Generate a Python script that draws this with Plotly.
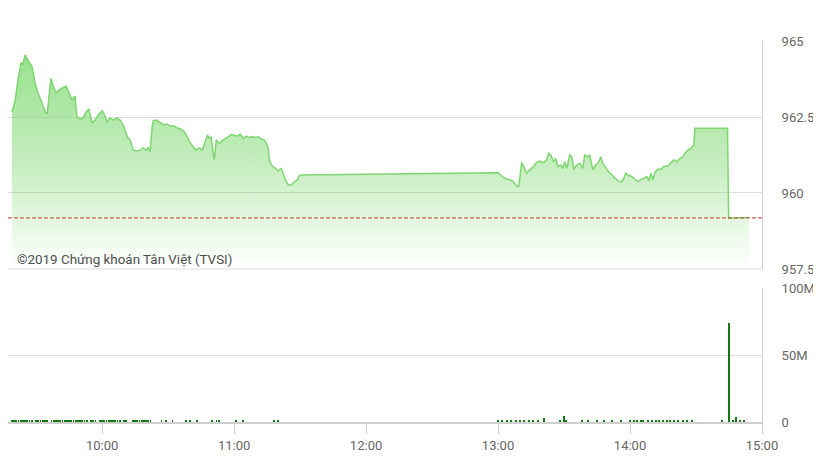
import plotly.graph_objects as go
from plotly.subplots import make_subplots

DAY = "2019-10-14 "

# ---- index line (time, value) ----
price_times = [
    "09:19:00","09:20:25","09:21:45","09:23:10","09:24:00","09:25:00","09:26:20","09:28:10","09:29:30","09:30:50",
    "09:32:40","09:34:05","09:35:00","09:36:20","09:36:45","09:37:40","09:39:05","09:40:25","09:42:15","09:43:35",
    "09:45:00","09:46:20","09:47:40","09:48:35","09:50:00","09:51:20","09:52:45","09:54:05","09:55:25","09:56:50",
    "09:58:10","10:00:00","10:00:55","10:02:15","10:03:40","10:05:00","10:06:50","10:08:10","10:10:00","10:11:25",
    "10:12:45","10:14:05","10:15:30","10:17:20","10:18:40","10:20:00","10:20:55","10:21:50","10:22:45","10:23:15",
    "10:24:35","10:25:55","10:26:50","10:28:15","10:29:35","10:30:55","10:32:45","10:34:10","10:36:00","10:37:20",
    "10:38:40","10:40:05","10:41:25","10:42:50","10:44:10","10:45:30","10:46:55","10:47:50","10:48:45","10:49:35",
    "10:50:30","10:51:00","10:51:55","10:53:15","10:54:40","10:56:00","10:57:20","10:58:45","11:00:05","11:01:25",
    "11:02:50","11:04:10","11:05:35","11:06:55","11:08:15","11:09:40","11:11:00","11:12:25","11:13:45","11:14:40",
    "11:15:35","11:16:00","11:16:55","11:18:45","11:20:05","11:21:30","11:22:25","11:23:20","11:24:40","11:26:00",
    "11:27:25","11:28:45","11:29:40","11:30:00",
    "13:00:00","13:01:10","13:02:35","13:04:20","13:05:45","13:07:05","13:08:30","13:09:25","13:10:15","13:10:45",
    "13:12:05","13:13:00","13:14:25","13:16:10","13:17:35","13:18:55","13:20:45","13:22:05","13:23:00","13:23:55",
    "13:25:20","13:26:15","13:27:10","13:28:30","13:29:25","13:30:20","13:31:15","13:32:35","13:33:30","13:34:25",
    "13:35:45","13:37:10","13:38:30","13:39:25","13:40:45","13:41:40","13:43:05","13:44:25","13:45:50","13:46:40",
    "13:47:35","13:49:00","13:50:20","13:51:45","13:53:05","13:54:55","13:56:15","13:57:10","13:58:05","13:59:00",
    "14:00:20","14:01:45","14:03:35","14:04:55","14:06:15","14:07:40","14:08:35","14:09:30","14:10:25","14:11:15",
    "14:12:40","14:14:00","14:15:25","14:17:10","14:18:35","14:19:55","14:21:20","14:22:40","14:24:00","14:25:00",
    "14:26:20","14:27:40","14:29:00","14:29:30","14:44:20","14:44:50","14:54:00",
]
price_values = [
    962.67,963.00,963.72,964.28,964.24,964.54,964.37,964.15,963.62,963.29,
    962.96,962.67,962.60,963.50,963.77,963.55,963.29,963.39,963.45,963.52,
    963.29,963.06,963.19,962.51,962.43,962.47,962.67,962.76,962.30,962.40,
    962.57,962.71,962.60,962.35,962.47,962.40,962.46,962.40,962.18,961.85,
    961.74,961.41,961.38,961.41,961.48,961.41,961.49,961.36,962.18,962.38,
    962.40,962.35,962.30,962.24,962.27,962.20,962.20,962.14,962.10,962.02,
    961.85,961.65,961.52,961.41,961.48,961.41,961.69,961.91,961.80,961.85,
    961.31,961.11,961.74,961.63,961.72,961.80,961.85,961.93,961.91,961.87,
    961.93,961.80,961.87,961.83,961.85,961.83,961.85,961.77,961.74,961.63,
    961.47,961.09,960.92,960.81,960.73,960.81,960.59,960.43,960.26,960.26,
    960.37,960.43,960.56,960.59,
    960.67,960.59,960.50,960.45,960.43,960.37,960.23,960.21,960.65,961.00,
    960.81,960.65,960.76,960.87,961.01,961.05,961.00,961.09,961.31,961.25,
    961.03,961.14,960.87,960.92,960.81,961.03,960.81,961.25,961.19,960.78,
    960.92,960.98,960.81,961.25,961.19,961.25,960.76,960.92,961.03,961.19,
    960.98,960.81,960.69,960.61,960.49,960.39,960.37,960.48,960.65,960.59,
    960.56,960.48,960.37,960.45,960.48,960.54,960.40,960.65,960.43,960.67,
    960.78,960.78,960.87,960.89,960.98,961.09,961.03,961.14,961.19,961.31,
    961.41,961.47,961.58,962.13,962.13,959.17,959.19,
]
reference_value = 959.18

# ---- volume bars (millions of shares) ----
volume_times = [
    "09:19:00","09:20:00","09:21:00","09:22:00","09:23:00","09:24:00","09:25:00","09:26:00","09:27:00","09:28:00",
    "09:30:00","09:31:00","09:32:00","09:33:00","09:34:00","09:35:00",
    "09:37:00","09:38:00","09:39:00","09:40:00","09:41:00","09:42:00","09:43:00","09:44:00","09:45:00","09:46:00",
    "09:47:00","09:48:00","09:49:00","09:50:00","09:51:00","09:52:00","09:53:00",
    "09:55:00","09:56:00","09:57:00",
    "09:59:00","10:00:00","10:01:00","10:02:00","10:03:00","10:04:00","10:05:00","10:06:00","10:07:00","10:08:00",
    "10:10:00","10:11:00",
    "10:14:00","10:15:00","10:16:00","10:17:00","10:18:00","10:19:00","10:20:00","10:21:00","10:22:00",
    "10:27:00","10:29:00","10:32:00","10:38:00","10:40:00","10:43:00","10:50:00","10:52:00","10:53:00",
    "11:01:00","11:04:00","11:18:00","11:20:00",
    "13:00:00","13:02:00","13:04:00","13:06:00","13:08:00","13:10:00","13:12:00","13:14:00","13:16:00","13:18:00",
    "13:21:00","13:28:00","13:30:00","13:31:00","13:38:00","13:41:00","13:45:00","13:48:00","13:52:00","13:56:00",
    "14:00:00","14:02:00","14:03:00","14:05:00","14:06:00","14:08:00","14:10:00","14:12:00","14:13:00","14:15:00",
    "14:17:00","14:18:00","14:20:00","14:22:00","14:24:00","14:26:00","14:28:00",
    "14:42:00","14:45:00","14:46:50","14:48:10","14:50:00","14:52:00",
]
volume_values = [
    1.2,1.0,1.1,0.9,1.0,1.2,0.9,1.0,1.1,0.9,
    1.0,0.9,1.1,1.0,0.8,1.0,
    1.0,1.1,0.9,1.0,1.2,0.9,1.0,0.8,1.0,1.1,
    0.9,1.0,0.8,0.9,1.0,0.9,1.0,
    0.9,1.0,0.8,
    1.0,0.9,1.1,0.8,1.0,0.9,1.0,0.8,0.9,1.0,
    0.8,0.9,
    0.9,1.0,0.8,0.9,1.0,0.8,0.9,1.0,0.9,
    0.8,0.9,0.8,0.9,0.8,0.9,0.8,0.9,0.8,
    0.9,0.8,1.0,0.9,
    0.8,0.9,0.8,0.9,0.8,1.0,0.8,0.9,0.8,1.0,
    3.0,1.0,4.3,1.2,0.8,0.9,0.8,0.9,0.8,0.9,
    0.9,1.0,0.8,1.1,0.9,1.0,0.8,0.9,0.8,0.9,
    0.8,0.9,0.8,0.9,0.8,0.9,0.8,
    0.8,73.8,1.0,4.0,1.0,0.9,
]

price_ticks = [957.5, 960, 962.5, 965]
price_tick_text = ["957.5", "960", "962.5", "965"]
volume_ticks = [0, 50, 100]
volume_tick_text = ["0", "50M", "100M"]
hour_ticks = ["10:00", "11:00", "12:00", "13:00", "14:00", "15:00"]
watermark = "©2019 Chứng khoán Tân Việt (TVSI)"

x_price = [DAY + t for t in price_times]
x_vol = [DAY + t for t in volume_times]

fig = make_subplots(rows=2, cols=1, shared_xaxes=True, vertical_spacing=0.05)

fig.add_trace(go.Scatter(
    x=x_price, y=price_values, mode="lines",
    line=dict(color="rgb(125,214,112)", width=1.5),
    fill="tozeroy",
    fillgradient=dict(type="vertical", start=957.5, stop=965,
                      colorscale=[[0, "rgba(120,215,105,0.0)"],
                                  [0.45, "rgba(120,215,105,0.42)"],
                                  [1, "rgba(120,215,105,0.8)"]]),
    hoverinfo="skip", showlegend=False,
), row=1, col=1)

fig.add_trace(go.Bar(
    x=x_vol, y=volume_values, width=26000,
    marker=dict(color="rgb(18,120,18)", line=dict(width=0)),
    hoverinfo="skip", showlegend=False,
), row=2, col=1)

grid_col = "#dddddd"
axis_col = "#cfcfcf"

fig.add_shape(type="line", xref="x domain", yref="y", x0=0, x1=1,
              y0=reference_value, y1=reference_value,
              line=dict(color="rgb(190,62,48)", width=1, dash="4px,2px"))
# bottom edge line of the price panel (grid line at the lowest tick)
fig.add_shape(type="line", xref="x domain", yref="y domain", x0=0, x1=1,
              y0=0, y1=0, line=dict(color=grid_col, width=1))

font_family = "Roboto, Arial, sans-serif"
tick_font = dict(family=font_family, size=13, color="#666666")
xrange = [DAY + "09:17:13", DAY + "15:00:00"]

fig.update_layout(
    width=813, height=453,
    margin=dict(l=0, r=59, t=33, b=39),
    paper_bgcolor="white", plot_bgcolor="white",
    bargap=0,
    xaxis=dict(range=xrange, showticklabels=False, showgrid=False, zeroline=False,
               ticks="", showline=False, domain=[0, 1]),
    xaxis2=dict(range=xrange, showgrid=False, zeroline=False, domain=[0, 1],
                tickvals=[DAY + h for h in hour_ticks], ticktext=hour_ticks,
                tickfont=tick_font, ticks="outside", ticklen=10, tickcolor=axis_col,
                showline=True, linecolor=axis_col, linewidth=2),
    yaxis=dict(domain=[0.4016, 1], range=[957.5, 965], side="right",
               tickvals=price_ticks, ticktext=price_tick_text, tickfont=tick_font,
               showgrid=True, gridcolor=grid_col, gridwidth=1, zeroline=False,
               showline=True, linecolor=axis_col, linewidth=1,
               ticks="outside", ticklen=16, tickcolor="rgba(0,0,0,0)"),
    yaxis2=dict(domain=[0, 0.3517], range=[0, 100], side="right",
                tickvals=volume_ticks, ticktext=volume_tick_text, tickfont=tick_font,
                showgrid=True, gridcolor=grid_col, gridwidth=1, zeroline=False,
                showline=True, linecolor=axis_col, linewidth=1,
                ticks="outside", ticklen=16, tickcolor="rgba(0,0,0,0)"),
    annotations=[dict(text=watermark, xref="paper", yref="paper",
                      x=0.0093, y=0.4278, xanchor="left", yanchor="middle",
                      showarrow=False,
                      font=dict(family=font_family, size=13.4, color="#4d4d4d"))],
    hovermode=False,
)

fig.write_html("out.html", config={"displayModeBar": False})
